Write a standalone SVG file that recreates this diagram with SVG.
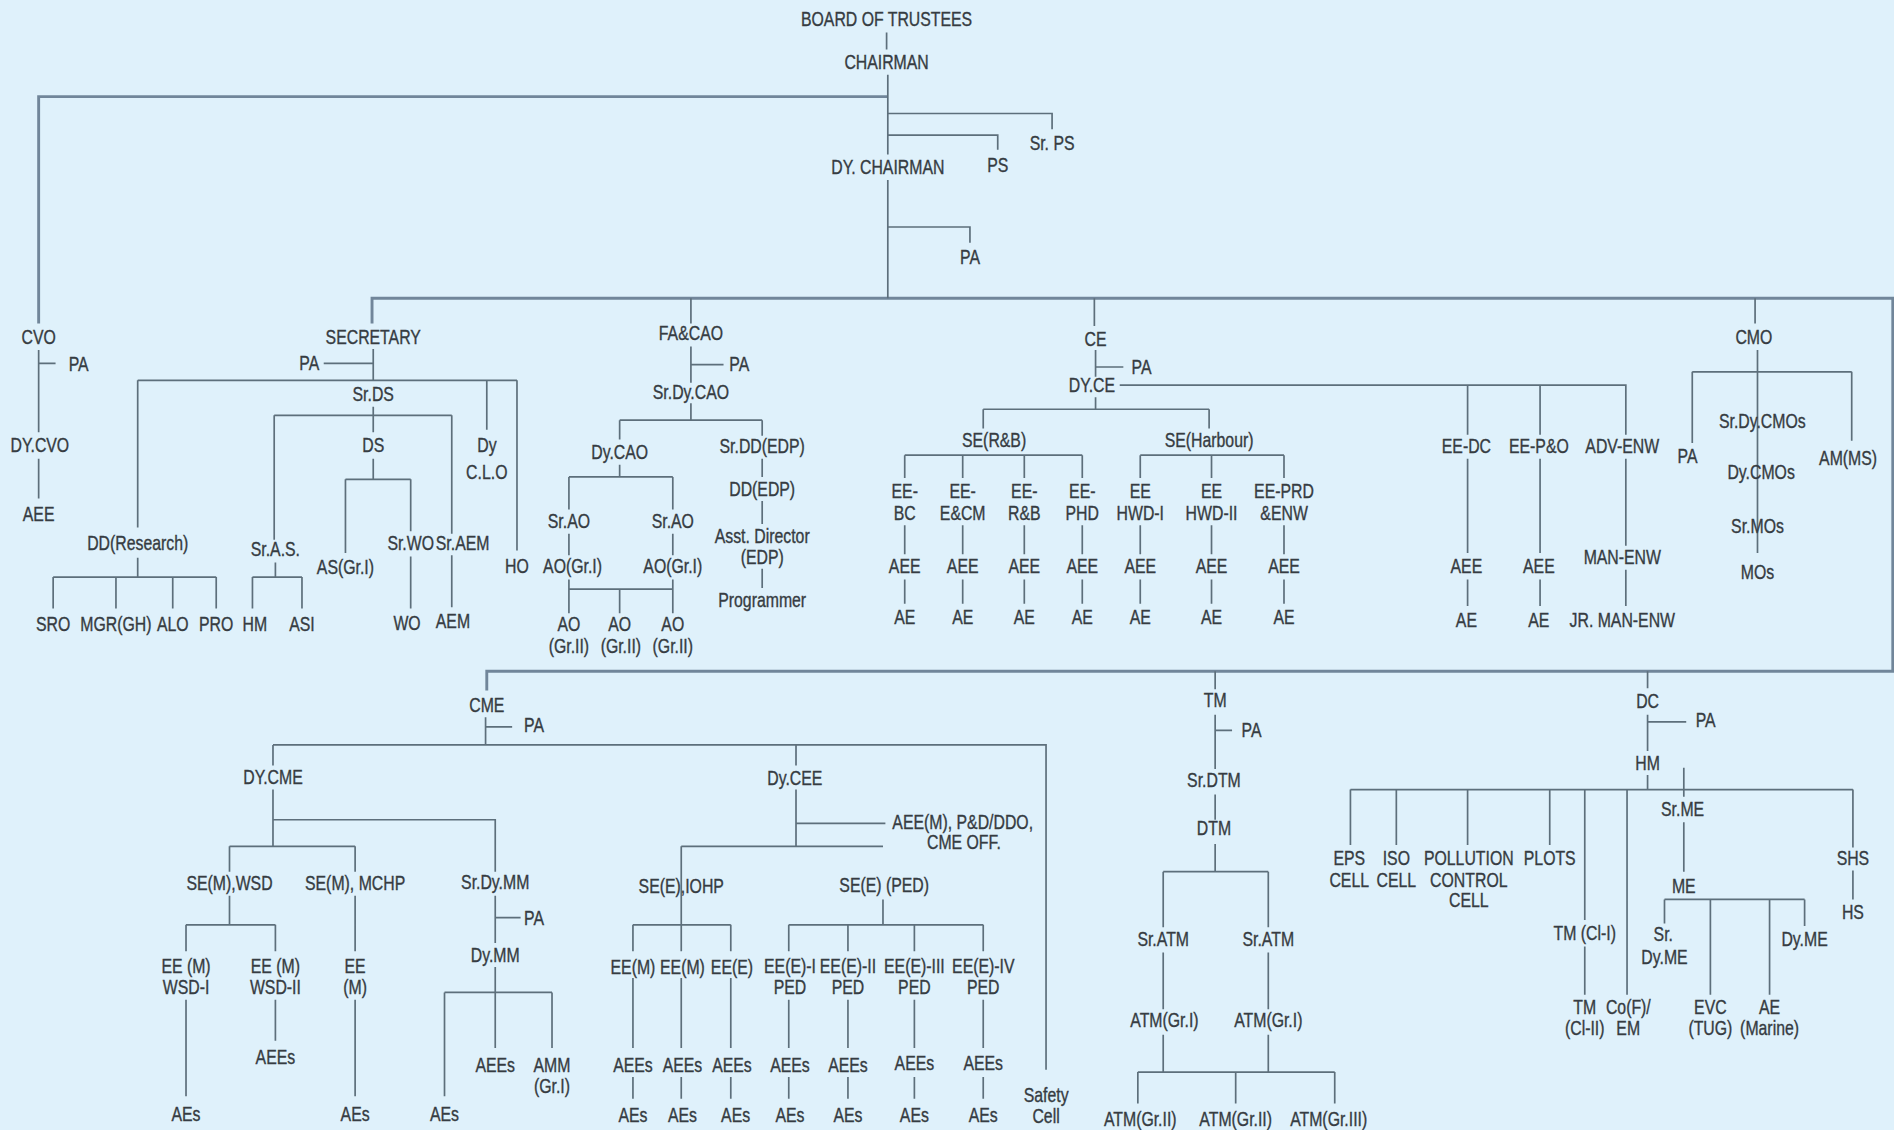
<svg xmlns="http://www.w3.org/2000/svg" width="1894" height="1130" viewBox="0 0 1894 1130">
<style>
.t{font-family:"Liberation Sans",Arial,sans-serif;font-size:16.8px;fill:#363c42;stroke:#363c42;stroke-width:0.3;text-anchor:middle;dominant-baseline:central;transform-box:fill-box;transform-origin:center;transform:scaleX(0.78)}
.c{fill:none;stroke:#5d6f7b;stroke-width:1.4}
.m{fill:none;stroke:#71869a;stroke-width:2.4}
</style>
<rect x="0" y="0" width="1894" height="1130" fill="#dff1fb"/>
<g transform="scale(1.2079,1.2073)">
<g id="connectors">
<path class="m" d="M32 268V80H735M308 268V247H1567V556H403V572"/>
<path class="c" d="M734 27V41M735 62V128M735 149V247M735 94H871V107M735 112H826V124M735 188H803V201M572 247V268M906 247V270M1453 247V268M1006 556V571M1364 556V570"/>
<path class="c" d="M32 290V358M32 301H46M32 380V413"/>
<path class="c" d="M309 289V315M268 301H309M114 315H428M114 315V437M403 315V356M428 315V456M309 337V358M227 344H374M227 344V447M374 344V442M309 380V397M286 397H340M286 397V458M340 397V440M340 461V504M374 460V503M114 462V478M44 478H179M44 478V504M96 478V504M143 478V504M179 478V504M228 466V478M209 478H250M209 478V504M250 478V504"/>
<path class="c" d="M572 287V317M572 302H599M572 334V348M513 348H631M513 348V364M631 348V361M513 385V395M471 395H557M471 395V422M557 395V422M471 442V460M557 442V460M471 480V508M471 488H557M513 488V508M557 480V508M631 380V395M631 415V434M631 471V487"/>
<path class="c" d="M907 290V312M907 304H930M907 329V339M814 339H1001M814 339V355M1001 339V355M927 319H1346V360M1215 319V360M1275 319V360M749 377H896M749 377V396M797 377V396M848 377V396M896 377V396M944 377H1063M944 377V396M1003 377V396M1063 377V396M749 435V459M797 435V459M848 435V459M896 435V459M944 435V459M1003 435V459M1063 435V459M749 480V500M797 480V500M848 480V500M896 480V500M944 480V500M1003 480V500M1063 480V500M1215 380V458M1215 480V502M1275 380V458M1275 480V502M1346 380V452M1346 472V502"/>
<path class="c" d="M1455 290V458M1401 308H1533M1401 308V367M1533 308V365"/>
<path class="c" d="M402 594V617M402 602H424M226 617H866V886M226 617V634M659 617V634M226 654V701M226 679H410V722M190 701H294M190 701V722M294 701V722M190 742V766M154 766H228M154 766V788M228 766V788M154 828V908M228 828V862M294 742V788M294 828V908M410 742V781M410 760H431M410 801V868M368 822H457M368 822V908M457 822V868"/>
<path class="c" d="M659 654V701M659 682H733M564 701H731M564 701V788M524 766H605M524 766V788M605 766V788M731 745V766M653 766H814M653 766V788M702 766V788M757 766V788M814 766V788M524 810V868M564 810V868M605 810V868M524 892V910M564 892V910M605 892V910M653 828V868M702 828V868M757 828V868M814 828V868M653 892V910M702 892V910M757 892V910M814 892V910"/>
<path class="c" d="M1006 592V637M1006 605H1020M1006 658V679M1006 699V722M963 722H1050M963 722V768M1050 722V768M963 789V836M1050 789V836M963 857V888M1050 857V888M942 888H1105M942 888V914M1023 888V914M1105 888V914"/>
<path class="c" d="M1364 592V622M1364 598H1396M1364 642V654M1118 654H1534M1118 654V700M1156 654V700M1215 654V700M1283 654V700M1312 654V762M1347 654V824M1534 654V702M1394 636V660M1394 681V722M1312 784V824M1378 745H1494M1378 745V765M1416 745V824M1465 745V824M1494 745V767M1534 721V745"/>
</g>
<g id="n-board"><text class="t" x="734" y="16">BOARD OF TRUSTEES</text></g>
<g id="n-chairman"><text class="t" x="734" y="52">CHAIRMAN</text></g>
<g id="n-srps"><text class="t" x="871" y="119">Sr. PS</text></g>
<g id="n-ps"><text class="t" x="826" y="137">PS</text></g>
<g id="n-dychairman"><text class="t" x="735" y="139">DY. CHAIRMAN</text></g>
<g id="n-dychairman-pa"><text class="t" x="803" y="213">PA</text></g>
<g id="n-cvo"><text class="t" x="32" y="279">CVO</text></g>
<g id="n-cvo-pa"><text class="t" x="65" y="302">PA</text></g>
<g id="n-dycvo"><text class="t" x="33" y="369">DY.CVO</text></g>
<g id="n-cvo-aee"><text class="t" x="32" y="426">AEE</text></g>
<g id="n-secretary"><text class="t" x="309" y="279">SECRETARY</text></g>
<g id="n-sec-pa"><text class="t" x="256" y="301">PA</text></g>
<g id="n-srds"><text class="t" x="309" y="327">Sr.DS</text></g>
<g id="n-dyclo"><text class="t" x="403" y="369">Dy</text><text class="t" x="403" y="391">C.L.O</text></g>
<g id="n-ds"><text class="t" x="309" y="369">DS</text></g>
<g id="n-ddresearch"><text class="t" x="114" y="450">DD(Research)</text></g>
<g id="n-sras"><text class="t" x="228" y="455">Sr.A.S.</text></g>
<g id="n-asgr1"><text class="t" x="286" y="470">AS(Gr.I)</text></g>
<g id="n-srwo"><text class="t" x="340" y="450">Sr.WO</text></g>
<g id="n-sraem"><text class="t" x="383" y="450">Sr.AEM</text></g>
<g id="n-ho"><text class="t" x="428" y="469">HO</text></g>
<g id="n-sro"><text class="t" x="44" y="517">SRO</text></g>
<g id="n-mgrgh"><text class="t" x="96" y="517">MGR(GH)</text></g>
<g id="n-alo"><text class="t" x="143" y="517">ALO</text></g>
<g id="n-pro"><text class="t" x="179" y="517">PRO</text></g>
<g id="n-hm1"><text class="t" x="211" y="517">HM</text></g>
<g id="n-asi"><text class="t" x="250" y="517">ASI</text></g>
<g id="n-wo"><text class="t" x="337" y="516">WO</text></g>
<g id="n-aem"><text class="t" x="375" y="515">AEM</text></g>
<g id="n-facao"><text class="t" x="572" y="276">FA&amp;CAO</text></g>
<g id="n-facao-pa"><text class="t" x="612" y="302">PA</text></g>
<g id="n-srdycao"><text class="t" x="572" y="325">Sr.Dy.CAO</text></g>
<g id="n-dycao"><text class="t" x="513" y="375">Dy.CAO</text></g>
<g id="n-srddedp"><text class="t" x="631" y="370">Sr.DD(EDP)</text></g>
<g id="n-srao1"><text class="t" x="471" y="432">Sr.AO</text></g>
<g id="n-srao2"><text class="t" x="557" y="432">Sr.AO</text></g>
<g id="n-aogr1a"><text class="t" x="474" y="469">AO(Gr.I)</text></g>
<g id="n-aogr1b"><text class="t" x="557" y="469">AO(Gr.I)</text></g>
<g id="n-aogr2a"><text class="t" x="471" y="517">AO</text><text class="t" x="471" y="535">(Gr.II)</text></g>
<g id="n-aogr2b"><text class="t" x="513" y="517">AO</text><text class="t" x="514" y="535">(Gr.II)</text></g>
<g id="n-aogr2c"><text class="t" x="557" y="517">AO</text><text class="t" x="557" y="535">(Gr.II)</text></g>
<g id="n-ddedp"><text class="t" x="631" y="405">DD(EDP)</text></g>
<g id="n-asstdir"><text class="t" x="631" y="444">Asst. Director</text><text class="t" x="631" y="462">(EDP)</text></g>
<g id="n-programmer"><text class="t" x="631" y="497">Programmer</text></g>
<g id="n-ce"><text class="t" x="907" y="281">CE</text></g>
<g id="n-ce-pa"><text class="t" x="945" y="304">PA</text></g>
<g id="n-dyce"><text class="t" x="904" y="319">DY.CE</text></g>
<g id="n-serb"><text class="t" x="823" y="365">SE(R&amp;B)</text></g>
<g id="n-seharbour"><text class="t" x="1001" y="365">SE(Harbour)</text></g>
<g id="n-eebc"><text class="t" x="749" y="407">EE-</text><text class="t" x="749" y="425">BC</text><text class="t" x="749" y="469">AEE</text><text class="t" x="749" y="511">AE</text></g>
<g id="n-eeecm"><text class="t" x="797" y="407">EE-</text><text class="t" x="797" y="425">E&amp;CM</text><text class="t" x="797" y="469">AEE</text><text class="t" x="797" y="511">AE</text></g>
<g id="n-eerb"><text class="t" x="848" y="407">EE-</text><text class="t" x="848" y="425">R&amp;B</text><text class="t" x="848" y="469">AEE</text><text class="t" x="848" y="511">AE</text></g>
<g id="n-eephd"><text class="t" x="896" y="407">EE-</text><text class="t" x="896" y="425">PHD</text><text class="t" x="896" y="469">AEE</text><text class="t" x="896" y="511">AE</text></g>
<g id="n-eehwd1"><text class="t" x="944" y="407">EE</text><text class="t" x="944" y="425">HWD-I</text><text class="t" x="944" y="469">AEE</text><text class="t" x="944" y="511">AE</text></g>
<g id="n-eehwd2"><text class="t" x="1003" y="407">EE</text><text class="t" x="1003" y="425">HWD-II</text><text class="t" x="1003" y="469">AEE</text><text class="t" x="1003" y="511">AE</text></g>
<g id="n-eeprd"><text class="t" x="1063" y="407">EE-PRD</text><text class="t" x="1063" y="425">&amp;ENW</text><text class="t" x="1063" y="469">AEE</text><text class="t" x="1063" y="511">AE</text></g>
<g id="n-eedc"><text class="t" x="1214" y="370">EE-DC</text><text class="t" x="1214" y="469">AEE</text><text class="t" x="1214" y="514">AE</text></g>
<g id="n-eepo"><text class="t" x="1274" y="370">EE-P&amp;O</text><text class="t" x="1274" y="469">AEE</text><text class="t" x="1274" y="514">AE</text></g>
<g id="n-advenw"><text class="t" x="1343" y="370">ADV-ENW</text></g>
<g id="n-manenw"><text class="t" x="1343" y="462">MAN-ENW</text></g>
<g id="n-jrmanenw"><text class="t" x="1343" y="514">JR. MAN-ENW</text></g>
<g id="n-cmo"><text class="t" x="1452" y="279">CMO</text></g>
<g id="n-srdycmos"><text class="t" x="1459" y="349">Sr.Dy.CMOs</text></g>
<g id="n-cmo-pa"><text class="t" x="1397" y="378">PA</text></g>
<g id="n-amms"><text class="t" x="1530" y="380">AM(MS)</text></g>
<g id="n-dycmos"><text class="t" x="1458" y="391">Dy.CMOs</text></g>
<g id="n-srmos"><text class="t" x="1455" y="436">Sr.MOs</text></g>
<g id="n-mos"><text class="t" x="1455" y="474">MOs</text></g>
<g id="n-cme"><text class="t" x="403" y="584">CME</text></g>
<g id="n-cme-pa"><text class="t" x="442" y="601">PA</text></g>
<g id="n-dycme"><text class="t" x="226" y="644">DY.CME</text></g>
<g id="n-dycee"><text class="t" x="658" y="645">Dy.CEE</text></g>
<g id="n-aeem"><text class="t" x="797" y="681">AEE(M), P&amp;D/DDO,</text><text class="t" x="798" y="698">CME OFF.</text></g>
<g id="n-semwsd"><text class="t" x="190" y="732">SE(M),WSD</text></g>
<g id="n-semmchp"><text class="t" x="294" y="732">SE(M), MCHP</text></g>
<g id="n-srdymm"><text class="t" x="410" y="731">Sr.Dy.MM</text></g>
<g id="n-srdymm-pa"><text class="t" x="442" y="761">PA</text></g>
<g id="n-dymm"><text class="t" x="410" y="791">Dy.MM</text></g>
<g id="n-eemwsd1"><text class="t" x="154" y="800">EE (M)</text><text class="t" x="154" y="818">WSD-I</text><text class="t" x="154" y="923">AEs</text></g>
<g id="n-eemwsd2"><text class="t" x="228" y="800">EE (M)</text><text class="t" x="228" y="818">WSD-II</text><text class="t" x="228" y="876">AEEs</text></g>
<g id="n-eem"><text class="t" x="294" y="800">EE</text><text class="t" x="294" y="818">(M)</text><text class="t" x="294" y="923">AEs</text></g>
<g id="n-mm-aes"><text class="t" x="368" y="923">AEs</text></g>
<g id="n-mm-aees"><text class="t" x="410" y="882">AEEs</text></g>
<g id="n-amm"><text class="t" x="457" y="882">AMM</text><text class="t" x="457" y="900">(Gr.I)</text></g>
<g id="n-seeiohp"><text class="t" x="564" y="734">SE(E),IOHP</text></g>
<g id="n-seeped"><text class="t" x="732" y="733">SE(E) (PED)</text></g>
<g id="n-eem1"><text class="t" x="524" y="801">EE(M)</text><text class="t" x="524" y="882">AEEs</text><text class="t" x="524" y="924">AEs</text></g>
<g id="n-eem2"><text class="t" x="565" y="801">EE(M)</text><text class="t" x="565" y="882">AEEs</text><text class="t" x="565" y="924">AEs</text></g>
<g id="n-eee"><text class="t" x="606" y="801">EE(E)</text><text class="t" x="606" y="882">AEEs</text><text class="t" x="609" y="924">AEs</text></g>
<g id="n-eee1"><text class="t" x="654" y="800">EE(E)-I</text><text class="t" x="654" y="818">PED</text><text class="t" x="654" y="882">AEEs</text><text class="t" x="654" y="924">AEs</text></g>
<g id="n-eee2"><text class="t" x="702" y="800">EE(E)-II</text><text class="t" x="702" y="818">PED</text><text class="t" x="702" y="882">AEEs</text><text class="t" x="702" y="924">AEs</text></g>
<g id="n-eee3"><text class="t" x="757" y="800">EE(E)-III</text><text class="t" x="757" y="818">PED</text><text class="t" x="757" y="881">AEEs</text><text class="t" x="757" y="924">AEs</text></g>
<g id="n-eee4"><text class="t" x="814" y="800">EE(E)-IV</text><text class="t" x="814" y="818">PED</text><text class="t" x="814" y="881">AEEs</text><text class="t" x="814" y="924">AEs</text></g>
<g id="n-safety"><text class="t" x="866" y="907">Safety</text><text class="t" x="866" y="925">Cell</text></g>
<g id="n-tm"><text class="t" x="1006" y="580">TM</text></g>
<g id="n-tm-pa"><text class="t" x="1036" y="605">PA</text></g>
<g id="n-srdtm"><text class="t" x="1005" y="646">Sr.DTM</text></g>
<g id="n-dtm"><text class="t" x="1005" y="686">DTM</text></g>
<g id="n-sratm1"><text class="t" x="963" y="778">Sr.ATM</text></g>
<g id="n-sratm2"><text class="t" x="1050" y="778">Sr.ATM</text></g>
<g id="n-atmgr1a"><text class="t" x="964" y="845">ATM(Gr.I)</text></g>
<g id="n-atmgr1b"><text class="t" x="1050" y="845">ATM(Gr.I)</text></g>
<g id="n-atmgr2a"><text class="t" x="944" y="927">ATM(Gr.II)</text></g>
<g id="n-atmgr2b"><text class="t" x="1023" y="927">ATM(Gr.II)</text></g>
<g id="n-atmgr3"><text class="t" x="1100" y="927">ATM(Gr.III)</text></g>
<g id="n-dc"><text class="t" x="1364" y="581">DC</text></g>
<g id="n-dc-pa"><text class="t" x="1412" y="597">PA</text></g>
<g id="n-hm"><text class="t" x="1364" y="632">HM</text></g>
<g id="n-eps"><text class="t" x="1117" y="711">EPS</text><text class="t" x="1117" y="729">CELL</text></g>
<g id="n-iso"><text class="t" x="1156" y="711">ISO</text><text class="t" x="1156" y="729">CELL</text></g>
<g id="n-pollution"><text class="t" x="1216" y="711">POLLUTION</text><text class="t" x="1216" y="729">CONTROL</text><text class="t" x="1216" y="746">CELL</text></g>
<g id="n-plots"><text class="t" x="1283" y="711">PLOTS</text></g>
<g id="n-srme"><text class="t" x="1393" y="670">Sr.ME</text></g>
<g id="n-me"><text class="t" x="1394" y="734">ME</text></g>
<g id="n-shs"><text class="t" x="1534" y="711">SHS</text></g>
<g id="n-hs"><text class="t" x="1534" y="756">HS</text></g>
<g id="n-tmcl1"><text class="t" x="1312" y="773">TM (Cl-I)</text></g>
<g id="n-srdyme"><text class="t" x="1377" y="774">Sr.</text><text class="t" x="1378" y="793">Dy.ME</text></g>
<g id="n-dyme"><text class="t" x="1494" y="778">Dy.ME</text></g>
<g id="n-tmcl2"><text class="t" x="1312" y="834">TM</text><text class="t" x="1312" y="852">(Cl-II)</text></g>
<g id="n-cofem"><text class="t" x="1348" y="834">Co(F)/</text><text class="t" x="1348" y="852">EM</text></g>
<g id="n-evc"><text class="t" x="1416" y="834">EVC</text><text class="t" x="1416" y="852">(TUG)</text></g>
<g id="n-aemarine"><text class="t" x="1465" y="834">AE</text><text class="t" x="1465" y="852">(Marine)</text></g>
</g>
</svg>
